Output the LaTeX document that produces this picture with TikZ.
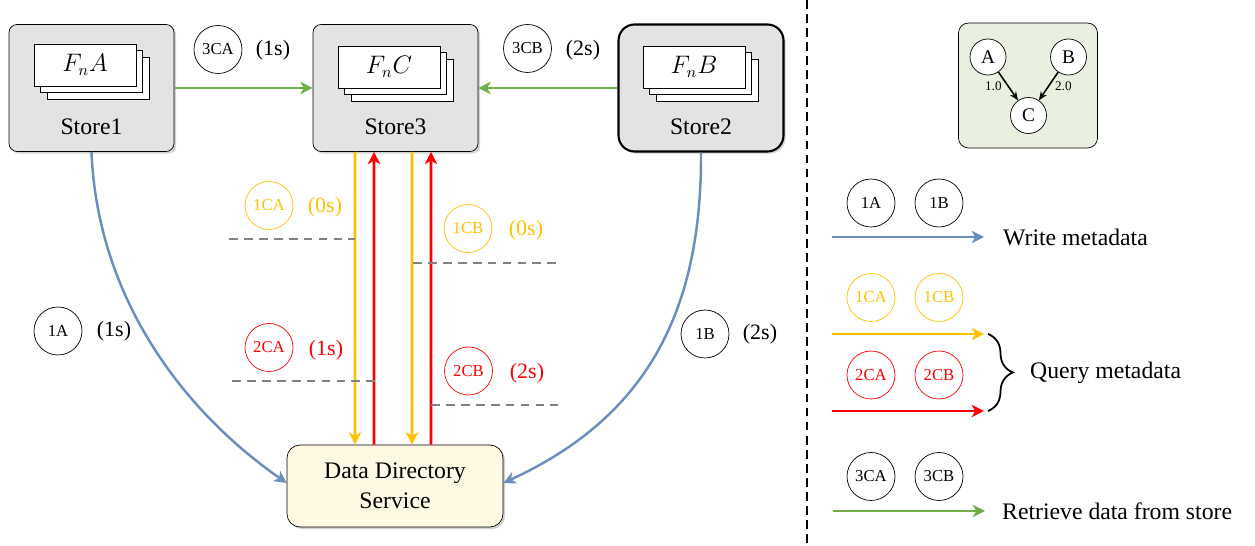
\documentclass[tikz,border=0pt]{standalone}
\usepackage{fontspec}
\setmainfont{Liberation Serif}
\newfontfamily\tnr{Liberation Serif}
\usetikzlibrary{arrows.meta,shadows,decorations.pathreplacing}

\definecolor{storegray}{HTML}{E3E3E3}
\definecolor{ddsfill}{HTML}{FFF8E3}
\definecolor{graphfill}{HTML}{E9F0E0}
\definecolor{retgreen}{HTML}{70AD47}
\definecolor{qyellow}{HTML}{FFC000}
\definecolor{qred}{HTML}{FF0000}
\definecolor{wblue}{HTML}{6C8EBF}
\definecolor{dashgray}{HTML}{808080}

\begin{document}
\begin{tikzpicture}[x=0.02cm,y=-0.02cm,
    txt/.style={font=\tnr\fontsize{13.5}{17}\selectfont},
    tm/.style={font=\tnr\fontsize{12.5}{14}\selectfont},
    store/.style={draw, rounded corners=0.16cm, fill=storegray, minimum width=3.3cm, minimum height=2.54cm,
      drop shadow={shadow xshift=1.2pt, shadow yshift=-1.2pt, opacity=0.35}},
    page/.style={draw, fill=white, minimum width=2.04cm, minimum height=0.84cm,
      copy shadow={shadow xshift=0.26cm, shadow yshift=-0.26cm},
      copy shadow={shadow xshift=0.13cm, shadow yshift=-0.13cm},
      font=\fontsize{13.5}{16}\selectfont},
    tag/.style={circle, draw, minimum size=0.96cm, inner sep=0pt, font=\tnr\fontsize{9.5}{10}\selectfont},
    ytag/.style={tag, draw=qyellow, text=qyellow},
    rtag/.style={tag, draw=qred, text=qred},
    tip/.style={-{Stealth[length=7pt, width=7pt, inset=2pt]}},
    warrow/.style={tip, wblue, line width=1.4pt},
    yarrow/.style={tip, qyellow, line width=1.5pt},
    rarrow/.style={tip, qred, line width=1.5pt},
    garrow/.style={tip, retgreen, line width=1.5pt},
    dline/.style={dashgray, line width=1.2pt, dash pattern=on 5pt off 3.5pt},
    gnode/.style={circle, draw, fill=white, minimum size=0.72cm, inner sep=0pt, font=\tnr\fontsize{11}{12}\selectfont}]
  \useasboundingbox (0,0) rectangle (1255,546);

  % Draw the three stores
  \node[store] (store1) at (91.5,88) {};
  \node[page] (fna) at (85,65) {$F_nA$};
  \node[txt] at (91.5,127) {Store1};
  \node[store] (store3) at (395.5,88) {};
  \node[page] (fnc) at (389,67) {$F_nC$};
  \node[txt] at (395.5,127) {Store3};
  \node[store, line width=1.2pt, rounded corners=0.32cm] (store2) at (701,88) {};
  \node[page] (fnb) at (694,67) {$F_nB$};
  \node[txt] at (701,127) {Store2};

  % Draw data directory service
  \node[draw, rounded corners=0.26cm, fill=ddsfill, minimum width=4.32cm, minimum height=1.64cm,
    align=center, txt, drop shadow={shadow xshift=1.2pt, shadow yshift=-1.2pt, opacity=0.35}]
    (dds) at (395,486) {Data Directory\\Service};

  % Retrieve data
  \draw[garrow] (store1.east) -- (store3.west);
  \draw[garrow] (store2.west) -- (store3.east);
  \node[tag] (t3ca) at (218,49.5) {3CA};
  \node[tm] at (273,50) {(1s)};
  \node[tag] (t3cb) at (527.5,48.5) {3CB};
  \node[tm] at (583,50) {(2s)};

  % Query metadata
  \draw[yarrow] ([xshift=-0.81cm]store3.south) -- ([xshift=-0.8cm]dds.north);
  \draw[rarrow] ([xshift=-0.42cm]dds.north) -- ([xshift=-0.43cm]store3.south);
  \draw[yarrow] ([xshift=0.33cm]store3.south) -- ([xshift=0.34cm]dds.north);
  \draw[rarrow] ([xshift=0.72cm]dds.north) -- ([xshift=0.71cm]store3.south);
  \node[ytag] (t1ca) at (269,205.5) {1CA};
  \node[tm, text=qyellow] at (325,207) {(0s)};
  \draw[dline] (229,239) -- (355,239);
  \node[ytag] (t1cb) at (468,228.5) {1CB};
  \node[tm, text=qyellow] at (526,230) {(0s)};
  \draw[dline] (413,263) -- (558,263);
  \node[rtag] (t2ca) at (269,347.5) {2CA};
  \node[tm, text=qred] at (326,350) {(1s)};
  \draw[dline] (232,381) -- (375,381);
  \node[rtag] (t2cb) at (468.5,371) {2CB};
  \node[tm, text=qred] at (527,373) {(2s)};
  \draw[dline] (431,405) -- (558,405);

  % Write metadata
  \draw[warrow] (store1.south) .. controls (97,290) and (175,405) .. ([yshift=0.06cm]dds.west);
  \draw[warrow] (store2.south) .. controls (702,320) and (640,420) .. ([yshift=0.06cm]dds.east);
  \node[tag] (t1a) at (58,331) {1A};
  \node[tm] at (114,331) {(1s)};
  \node[tag] (t1b) at (705,334) {1B};
  \node[tm] at (760,334) {(2s)};

  % Separator
  \draw[line width=0.9pt, dash pattern=on 5pt off 3pt] (807,0) -- (807,546);

  % Legend: dependency graph
  \node[draw, rounded corners=0.2cm, fill=graphfill, minimum width=2.78cm, minimum height=2.5cm] (gbox) at (1028,85.5) {};
  \node[gnode] (ga) at (988,57) {A};
  \node[gnode] (gb) at (1068.5,57) {B};
  \node[gnode] (gc) at (1028.5,115.5) {C};
  \draw[-{Stealth[length=5pt, width=4pt]}, line width=0.9pt] (ga) -- node[left, font=\tnr\fontsize{7.5}{8}\selectfont] {1.0} (gc);
  \draw[-{Stealth[length=5pt, width=4pt]}, line width=0.9pt] (gb) -- node[right, font=\tnr\fontsize{7.5}{8}\selectfont] {2.0} (gc);

  % Legend: arrows
  \node[tag] (l1a) at (871,203) {1A};
  \node[tag] (l1b) at (939,203) {1B};
  \coordinate (w0) at (832,237);
  \coordinate (w1) at (984,237);
  \draw[warrow] (w0) -- (w1);
  \node[txt, anchor=west] (wtxt) at (997,237) {Write metadata};

  \node[ytag] (l1ca) at (871,297.5) {1CA};
  \node[ytag] (l1cb) at (939,297.5) {1CB};
  \coordinate (y0) at (832,334);
  \coordinate (y1) at (984,334);
  \draw[yarrow] (y0) -- (y1);
  \node[rtag] (l2ca) at (871,375) {2CA};
  \node[rtag] (l2cb) at (939,375) {2CB};
  \coordinate (r0) at (832,411);
  \coordinate (r1) at (984,411);
  \draw[rarrow] (r0) -- (r1);
  \draw[decorate, decoration={brace, amplitude=0.5cm}, line width=1pt] (988,334) -- (988,411);
  \node[txt, anchor=west] (qtxt) at (1024,373) {Query metadata};

  \node[tag] (l3ca) at (871,476.5) {3CA};
  \node[tag] (l3cb) at (939,476.5) {3CB};
  \coordinate (g0) at (833,511);
  \coordinate (g1) at (985,511);
  \draw[garrow] (g0) -- (g1);
  \node[txt, anchor=west] (rtxt) at (996,511) {Retrieve data from store};
\end{tikzpicture}
\end{document}
